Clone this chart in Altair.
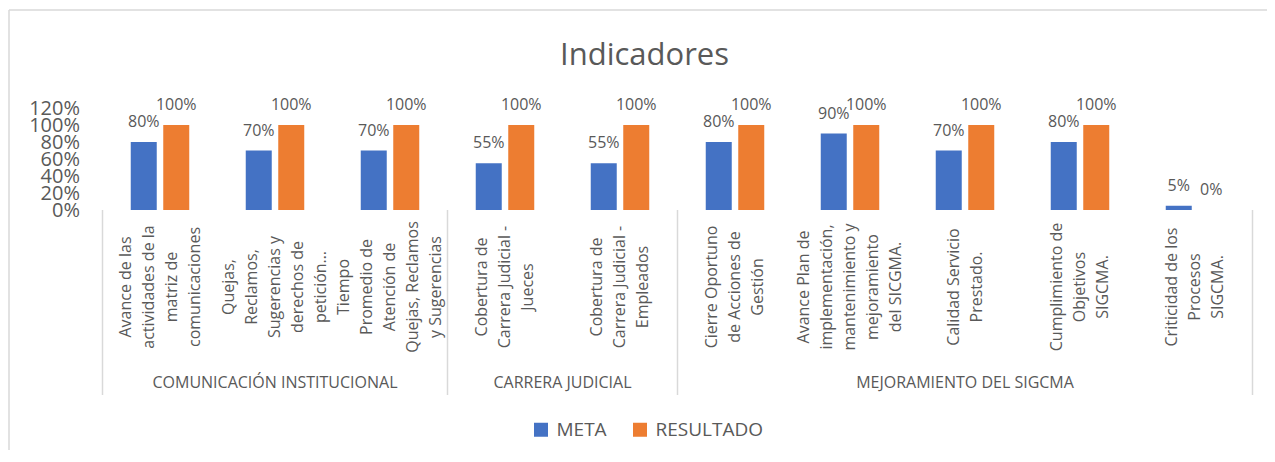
import altair as alt
import pandas as pd

TITULO = "Indicadores"
categorias = [
    "Avance de las\nactividades de la\nmatriz de\ncomunicaciones",
    "Quejas,\nReclamos,\nSugerencias y\nderechos de\npetición…",
    "Tiempo\nPromedio de\nAtención de\nQuejas, Reclamos\ny Sugerencias",
    "Cobertura de\nCarrera Judicial -\nJueces",
    "Cobertura de\nCarrera Judicial -\nEmpleados",
    "Cierre Oportuno\nde Acciones de\nGestión",
    "Avance Plan de\nimplementación,\nmantenimiento y\nmejoramiento\ndel SICGMA.",
    "Calidad Servicio\nPrestado.",
    "Cumplimiento de\nObjetivos\nSIGCMA.",
    "Criticidad de los\nProcesos\nSIGCMA.",
]
grupos = ["COMUNICACIÓN INSTITUCIONAL", "CARRERA JUDICIAL", "MEJORAMIENTO DEL SIGCMA"]
grupo_n = [3, 2, 5]
meta = [0.80, 0.70, 0.70, 0.55, 0.55, 0.80, 0.90, 0.70, 0.80, 0.05]
resultado = [1.00, 1.00, 1.00, 1.00, 1.00, 1.00, 1.00, 1.00, 1.00, 0.00]
series = ["META", "RESULTADO"]
colores = ["#4472C4", "#ED7D31"]
y_ticks = [0, 0.2, 0.4, 0.6, 0.8, 1.0, 1.2]

GRAY = "#595959"
LINE = "#D9D9D9"
FONT = "Open Sans"
W, H = 1150, 102
LH = 23

rows = []
for c, m, r in zip(categorias, meta, resultado):
    rows.append({"cat": c, "serie": series[0], "valor": m})
    rows.append({"cat": c, "serie": series[1], "valor": r})
df = pd.DataFrame(rows)


def xband(show_axis=False):
    ax = alt.Axis(labels=False, ticks=False, title=None, domainColor=LINE,
                  domainWidth=1.5, grid=False) if show_axis else None
    return alt.X("cat:N", sort=categorias,
                 scale=alt.Scale(paddingInner=0, paddingOuter=0), axis=ax)


xoff = alt.XOffset("serie:N", sort=series,
                   scale=alt.Scale(paddingInner=0.2, paddingOuter=0.869))


def yenc():
    return alt.Y("valor:Q", scale=alt.Scale(domain=[0, 1.2], nice=False),
                 axis=alt.Axis(values=y_ticks, format=".0%", title=None, domain=False,
                               ticks=False, tickSize=0, grid=False, labelFontSize=20,
                               labelColor=GRAY, labelFont=FONT, labelPadding=23,
                               labelOverlap=False, labelBound=False))


bars = alt.Chart(df).mark_bar().encode(
    x=xband(True), xOffset=xoff, y=yenc(),
    color=alt.Color("serie:N", scale=alt.Scale(domain=series, range=colores),
                    legend=alt.Legend(orient="none", legendX=429, legendY=312,
                                      direction="horizontal", title=None,
                                      symbolType="square", symbolSize=196,
                                      symbolStrokeWidth=0, labelFontSize=19,
                                      labelFont=FONT, labelColor=GRAY,
                                      columnPadding=23, labelOffset=6, padding=0)),
)

vals = alt.Chart(df).mark_text(dy=-15, baseline="alphabetic", fontSize=16,
                               color=GRAY, font=FONT).encode(
    x=xband(), xOffset=xoff, y=yenc(),
    text=alt.Text("valor:Q", format=".0%"),
)

cat_df = pd.DataFrame({"cat": categorias})
cat_base = alt.Chart(cat_df).transform_calculate(
    nlin="length(split(datum.cat, '\\n'))"
)
cat_layers = []
for n in sorted({c.count("\n") + 1 for c in categorias}):
    cat_layers.append(
        cat_base.transform_filter(f"datum.nlin == {n}").mark_text(
            angle=270, align="center", baseline="middle", lineBreak="\n",
            fontSize=16, lineHeight=LH, color=GRAY, font=FONT,
            dy=-(n - 1) * LH / 2,
        ).encode(x=xband(), y=alt.value(179), text="cat:N")
    )

g_df = pd.DataFrame({"grupo": grupos, "n": grupo_n, "idx": list(range(len(grupos)))})
base_g = alt.Chart(g_df).transform_window(
    fin="sum(n)", sort=[alt.SortField("idx")], frame=[None, 0]
).transform_calculate(ini="datum.fin - datum.n", mid="(datum.fin + datum.ini) / 2")


def xq(f):
    return alt.X(f"{f}:Q", scale=alt.Scale(domain=[0, sum(grupo_n)], nice=False, zero=True),
                 axis=None)


g_text = base_g.mark_text(fontSize=16, color=GRAY, font=FONT, baseline="middle").encode(
    x=xq("mid"), y=alt.value(275), text="grupo:N")
g_end = base_g.mark_rule(color=LINE, strokeWidth=1.5).encode(
    x=xq("fin"), y=alt.value(102), y2=alt.value(287))
g_start = base_g.transform_filter("datum.idx == 0").mark_rule(color=LINE, strokeWidth=1.5).encode(
    x=xq("ini"), y=alt.value(102), y2=alt.value(287))

t_df = pd.DataFrame({"titulo": [TITULO]})
title_txt = alt.Chart(t_df).mark_text(fontSize=31, color=GRAY, font=FONT, align="center",
                                      baseline="alphabetic").encode(
    x=alt.value(542), y=alt.value(-43), text="titulo:N")
frame_top = alt.Chart(t_df).mark_rule(color=LINE, strokeWidth=1.5).encode(
    x=alt.value(-93.5), x2=alt.value(1172.5), y=alt.value(-98))
frame_left = alt.Chart(t_df).mark_rule(color=LINE, strokeWidth=1.5).encode(
    x=alt.value(-93.5), y=alt.value(-98), y2=alt.value(354))

chart = alt.layer(
    alt.layer(bars, vals, *cat_layers),
    alt.layer(g_text, g_end, g_start, title_txt, frame_top, frame_left),
).resolve_scale(x="independent").properties(
    width=W, height=H,
    background="white",
    autosize=alt.AutoSizeParams(type="none"),
    padding={"left": 94.5, "top": 100, "right": 14, "bottom": 240},
).configure_view(stroke=None).configure_axisY(labelOverlap=False)

chart.save("out.html", embed_options={"renderer": "svg", "actions": False})
